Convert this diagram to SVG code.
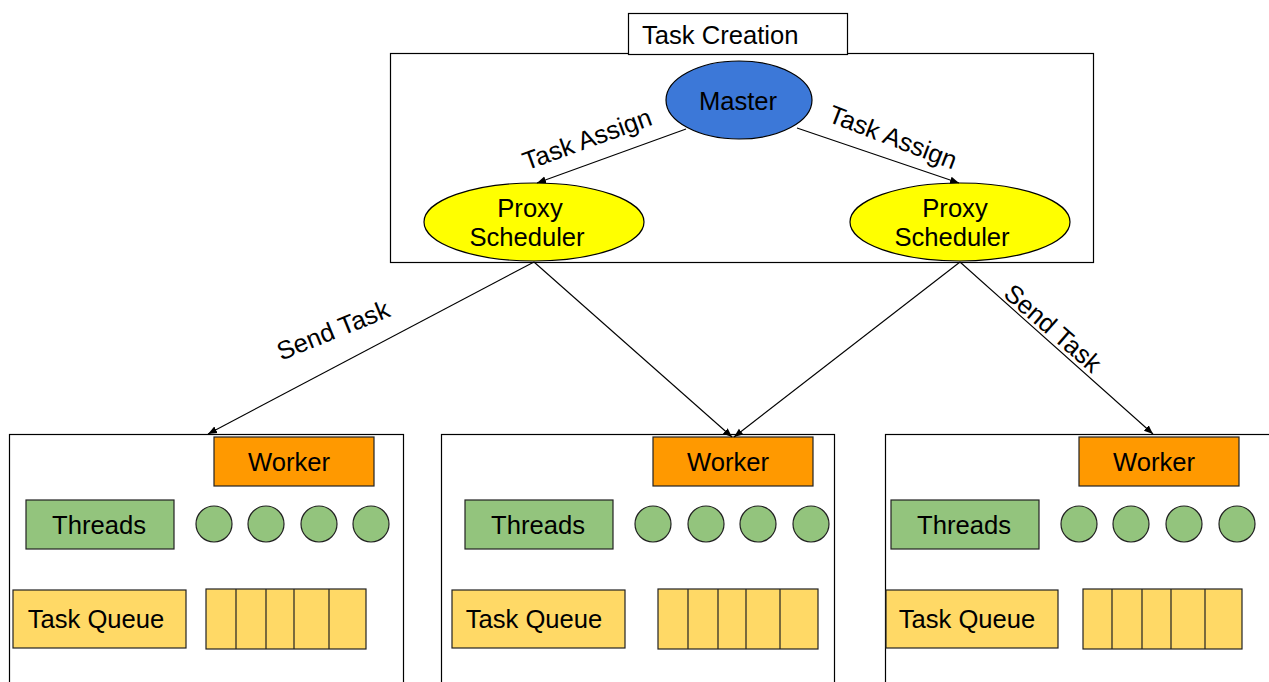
<svg xmlns="http://www.w3.org/2000/svg" width="1269" height="682" viewBox="0 0 1269 682">
<defs>
<marker id="ah" viewBox="0 0 10 10" refX="10" refY="5" markerWidth="9" markerHeight="9" markerUnits="userSpaceOnUse" orient="auto">
<path d="M0,1 L10,5 L0,9 z" fill="#000"/>
</marker>
<style>
text{font-family:"Liberation Sans",Arial,sans-serif;font-size:25.6px;fill:#000}
.m{text-anchor:middle}
.box{fill:#fff;stroke:#000;stroke-width:1.2}
.worker{fill:#ff9900;stroke:#222;stroke-width:1.2}
.threads{fill:#93c47d;stroke:#222;stroke-width:1.2}
.queue{fill:#ffd966;stroke:#222;stroke-width:1.2}
.cell{fill:none;stroke:#222;stroke-width:1.2}
.conn{stroke:#000;stroke-width:1.1;fill:none;marker-end:url(#ah)}
</style>
</defs>
<rect width="1269" height="682" fill="#fff"/>

<g id="task-creation-area">
<rect class="box" x="390.5" y="53.5" width="703" height="209"/>
<rect class="box" x="628.5" y="13.5" width="219" height="41"/>
<text x="642" y="44">Task Creation</text>
</g>

<g id="master">
<ellipse cx="739" cy="100" rx="73" ry="39" fill="#3c78d8" stroke="#000" stroke-width="1.2"/>
<text class="m" x="738" y="110">Master</text>
</g>

<g id="proxy-left">
<ellipse cx="534" cy="222" rx="110" ry="39" fill="#ffff00" stroke="#000" stroke-width="1.2"/>
<text class="m" x="530" y="217">Proxy</text>
<text class="m" x="527" y="246">Scheduler</text>
</g>

<g id="proxy-right">
<ellipse cx="960" cy="222" rx="110" ry="39" fill="#ffff00" stroke="#000" stroke-width="1.2"/>
<text class="m" x="955" y="217">Proxy</text>
<text class="m" x="952" y="246">Scheduler</text>
</g>

<g id="worker-left">
<rect class="box" x="9.5" y="434.5" width="394" height="260"/>
<rect class="worker" x="214" y="437" width="160" height="49"/>
<text class="m" x="289" y="471">Worker</text>
<rect class="threads" x="26" y="500" width="148" height="49"/>
<text class="m" x="99" y="534">Threads</text>
<circle class="threads" cx="214" cy="524" r="18"/>
<circle class="threads" cx="266" cy="524" r="18"/>
<circle class="threads" cx="319" cy="524" r="18"/>
<circle class="threads" cx="371" cy="524" r="18"/>
<rect class="queue" x="13" y="590" width="173" height="58"/>
<text class="m" x="96" y="628">Task Queue</text>
<rect class="queue" x="206" y="589" width="160" height="60"/>
<path class="cell" d="M236,589V649M266,589V649M294,589V649M329,589V649"/>
</g>

<g id="worker-middle">
<rect class="box" x="441.5" y="434.5" width="393" height="260"/>
<rect class="worker" x="653" y="437" width="160" height="49"/>
<text class="m" x="728" y="471">Worker</text>
<rect class="threads" x="465" y="500" width="148" height="49"/>
<text class="m" x="538" y="534">Threads</text>
<circle class="threads" cx="653" cy="524" r="18"/>
<circle class="threads" cx="706" cy="524" r="18"/>
<circle class="threads" cx="758" cy="524" r="18"/>
<circle class="threads" cx="811" cy="524" r="18"/>
<rect class="queue" x="452" y="590" width="173" height="58"/>
<text class="m" x="534" y="628">Task Queue</text>
<rect class="queue" x="658" y="589" width="160" height="60"/>
<path class="cell" d="M688,589V649M718,589V649M746,589V649M780,589V649"/>
</g>

<g id="worker-right">
<rect class="box" x="885.5" y="434.5" width="400" height="260"/>
<rect class="worker" x="1079" y="437" width="160" height="49"/>
<text class="m" x="1154" y="471">Worker</text>
<rect class="threads" x="891" y="500" width="148" height="49"/>
<text class="m" x="964" y="534">Threads</text>
<circle class="threads" cx="1079" cy="524" r="18"/>
<circle class="threads" cx="1131" cy="524" r="18"/>
<circle class="threads" cx="1184" cy="524" r="18"/>
<circle class="threads" cx="1237" cy="524" r="18"/>
<rect class="queue" x="886" y="590" width="172" height="58"/>
<text class="m" x="967" y="628">Task Queue</text>
<rect class="queue" x="1083" y="589" width="159" height="60"/>
<path class="cell" d="M1112,589V649M1142,589V649M1171,589V649M1205,589V649"/>
</g>

<g id="connectors">
<line class="conn" x1="686" y1="129" x2="537" y2="183"/>
<line class="conn" x1="797" y1="128" x2="959" y2="183"/>
<line class="conn" x1="534" y1="262" x2="208" y2="434"/>
<line class="conn" x1="534" y1="262" x2="732" y2="437"/>
<line class="conn" x1="960" y1="262" x2="734" y2="437"/>
<line class="conn" x1="960" y1="262" x2="1153" y2="434"/>
<text class="m" transform="translate(587,139) rotate(-20)" y="9">Task Assign</text>
<text class="m" transform="translate(893,137) rotate(21)" y="9">Task Assign</text>
<text class="m" transform="translate(333,330) rotate(-22)" y="9">Send Task</text>
<text class="m" transform="translate(1053,328) rotate(41)" y="9">Send Task</text>
</g>
</svg>
